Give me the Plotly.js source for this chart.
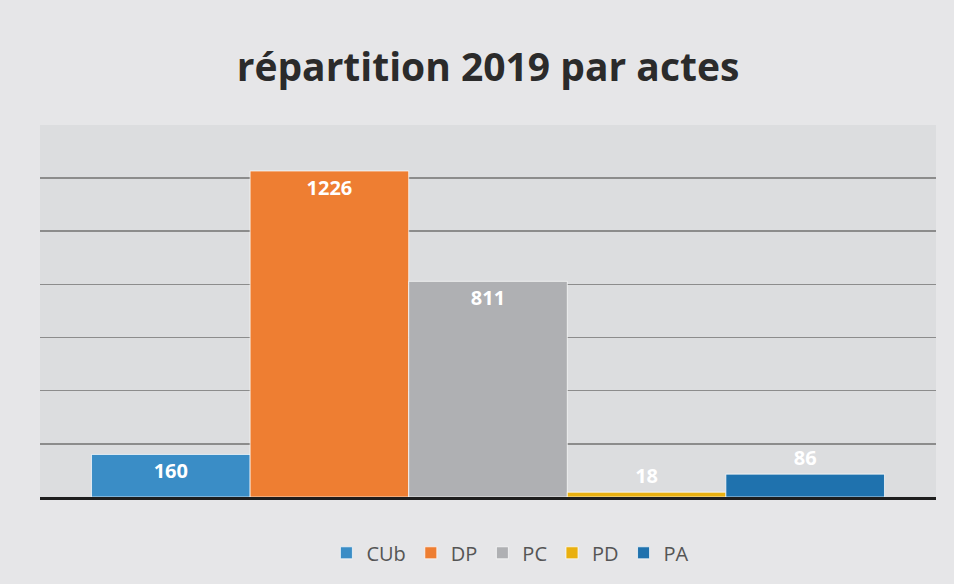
<!DOCTYPE html>
<html>
<head>
<meta charset="utf-8">
<script src="https://cdn.plot.ly/plotly-3.0.1.min.js"></script>
<style>
html,body{margin:0;padding:0;background:#e6e6e8;}
#chart{width:954px;height:584px;}
</style>
</head>
<body>
<div id="chart"></div>
<script>
const category = ["2019"];
const seriesNames = ["CUb", "DP", "PC", "PD", "PA"];
const seriesValues = [160, 1226, 811, 18, 86];
const seriesColors = ["#3a8dc6", "#ee7e32", "#afb0b3", "#e9b010", "#1f72ae"];

const labelFont = {family: "'Open Sans', Lato, sans-serif", size: 20, color: "#ffffff", weight: 700};

const traces = seriesNames.map((name, i) => ({
  type: "bar",
  name: name,
  x: category,
  y: [seriesValues[i]],
  marker: {color: seriesColors[i], line: {color: "rgba(255,255,255,0.7)", width: 1}},
  text: [String(seriesValues[i])],
  textposition: "auto",
  insidetextanchor: "end",
  textangle: 0,
  textfont: labelFont,
  outsidetextfont: labelFont,
  insidetextfont: labelFont,
  cliponaxis: false,
  hoverinfo: "skip"
}));

const layout = {
  width: 954,
  height: 584,
  paper_bgcolor: "#e6e6e8",
  plot_bgcolor: "#dcdddf",
  margin: {l: 40, r: 18, t: 125, b: 87},
  barmode: "group",
  bargap: 0.115,
  bargroupgap: 0,
  title: {
    text: "<b>répartition 2019 par actes</b>",
    font: {family: "'Open Sans', Lato, sans-serif", size: 39, color: "#2b2b2b"},
    x: 0.5, xref: "paper", xanchor: "center",
    y: 0.885, yref: "container", yanchor: "middle"
  },
  xaxis: {
    showticklabels: false,
    showgrid: false,
    showline: true,
    linecolor: "#1e1e1e",
    linewidth: 3,
    ticks: ""
  },
  yaxis: {
    range: [0, 1399],
    dtick: 200,
    showticklabels: false,
    showgrid: true,
    gridcolor: "#8c8c8c",
    gridwidth: 1.5,
    zeroline: false,
    ticks: ""
  },
  legend: {
    orientation: "h",
    x: 0.525, xanchor: "center",
    y: -0.15, yanchor: "middle",
    font: {family: "'Open Sans', Lato, sans-serif", size: 20, color: "#555555"},
    itemwidth: 30,
    bgcolor: "rgba(0,0,0,0)"
  },
  showlegend: true
};

Plotly.newPlot("chart", traces, layout, {displayModeBar: false, staticPlot: true});
</script>
</body>
</html>
